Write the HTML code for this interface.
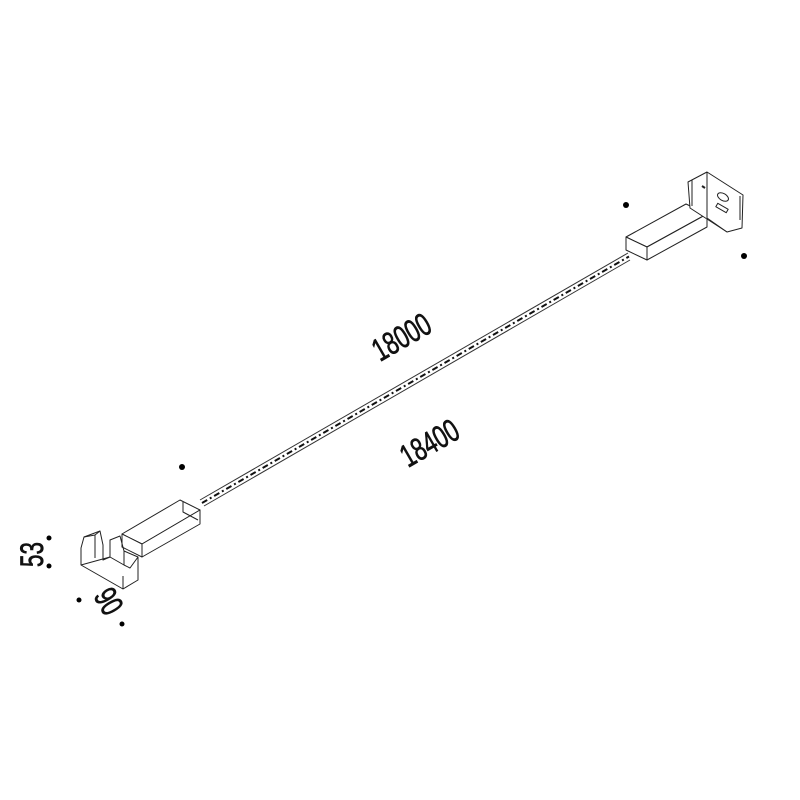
<!DOCTYPE html>
<html><head><meta charset="utf-8"><style>html,body{margin:0;padding:0;background:#fff}svg{display:block}</style></head>
<body>
<svg width="800" height="800" viewBox="0 0 800 800" xmlns="http://www.w3.org/2000/svg">
<g fill="none" stroke="#222" stroke-width="1" stroke-linejoin="round">
<line x1="200" y1="500" x2="628" y2="253" stroke="#333"/>
<line x1="204" y1="506" x2="630" y2="260" stroke="#333"/>
<line x1="202" y1="503" x2="629" y2="256.5" stroke="#111" stroke-width="2" stroke-dasharray="6,3,2,3"/>
<!-- left long box -->
<polygon points="122,534 180,500 200,510 142,544" fill="#fff"/>
<polygon points="142,544 200,510 200,524 142,557" fill="#fff"/>
<polygon points="122,534 142,544 142,557 122,547" fill="#fff"/>
<polyline points="183,502 183,512 198,520"/>
<!-- left bracket -->
<polygon points="81,565 123,589 138,580 138,557 124,551 124,565 110,557 103,560 103,545 100,531 84,537 81,548" fill="#fff"/>
<polyline points="84,537 95,535 100,531"/>
<line x1="95" y1="535" x2="95" y2="558"/>
<polyline points="110,557 110,540 120,536 124,551"/>
<polyline points="124,565 130,568 138,557"/>
<polyline points="81,565 110,557"/>
<line x1="123" y1="589" x2="123" y2="576"/>
<!-- right long box -->
<polygon points="626,237 686,204 707,214 647,247" fill="#fff"/>
<polygon points="647,247 707,214 707,227 647,260" fill="#fff"/>
<polygon points="626,237 647,247 647,260 626,250" fill="#fff"/>
<!-- right bracket -->
<polygon points="688,182 707,172 743,195 742,228 727,232 690,208" fill="#fff"/>
<line x1="707" y1="172" x2="707" y2="218"/>
<line x1="692" y1="180" x2="692" y2="206"/>
<polyline points="707,218 727,232"/>
<ellipse cx="723" cy="197" rx="6" ry="3.5" transform="rotate(30 723 197)"/>
<rect x="716" y="206" width="12" height="4" transform="rotate(30 722 208)"/>
<line x1="740" y1="196" x2="740" y2="220"/>
<line x1="702" y1="186" x2="705" y2="188" stroke-width="2"/>
</g>
<g fill="#000">
<circle cx="626" cy="205" r="3"/>
<circle cx="744" cy="256" r="3"/>
<circle cx="182" cy="467" r="3"/>
<circle cx="49" cy="538" r="2.5"/>
<circle cx="49" cy="566" r="2.5"/>
<circle cx="79" cy="600" r="2.5"/>
<circle cx="122" cy="624" r="2.5"/>
</g>
<g font-family="Liberation Sans, sans-serif" font-size="32" fill="#111" stroke="#111" stroke-width="0.7">
<text transform="translate(380,362) rotate(-30) scale(0.7,1)">18000</text>
<text transform="translate(408,468) rotate(-30) scale(0.7,1)">18400</text>
<text transform="translate(43,567) rotate(-90) scale(0.7,1)">53</text>
<text transform="translate(93,596) rotate(60) scale(0.7,1)">90</text>
</g>
</svg>
</body></html>
